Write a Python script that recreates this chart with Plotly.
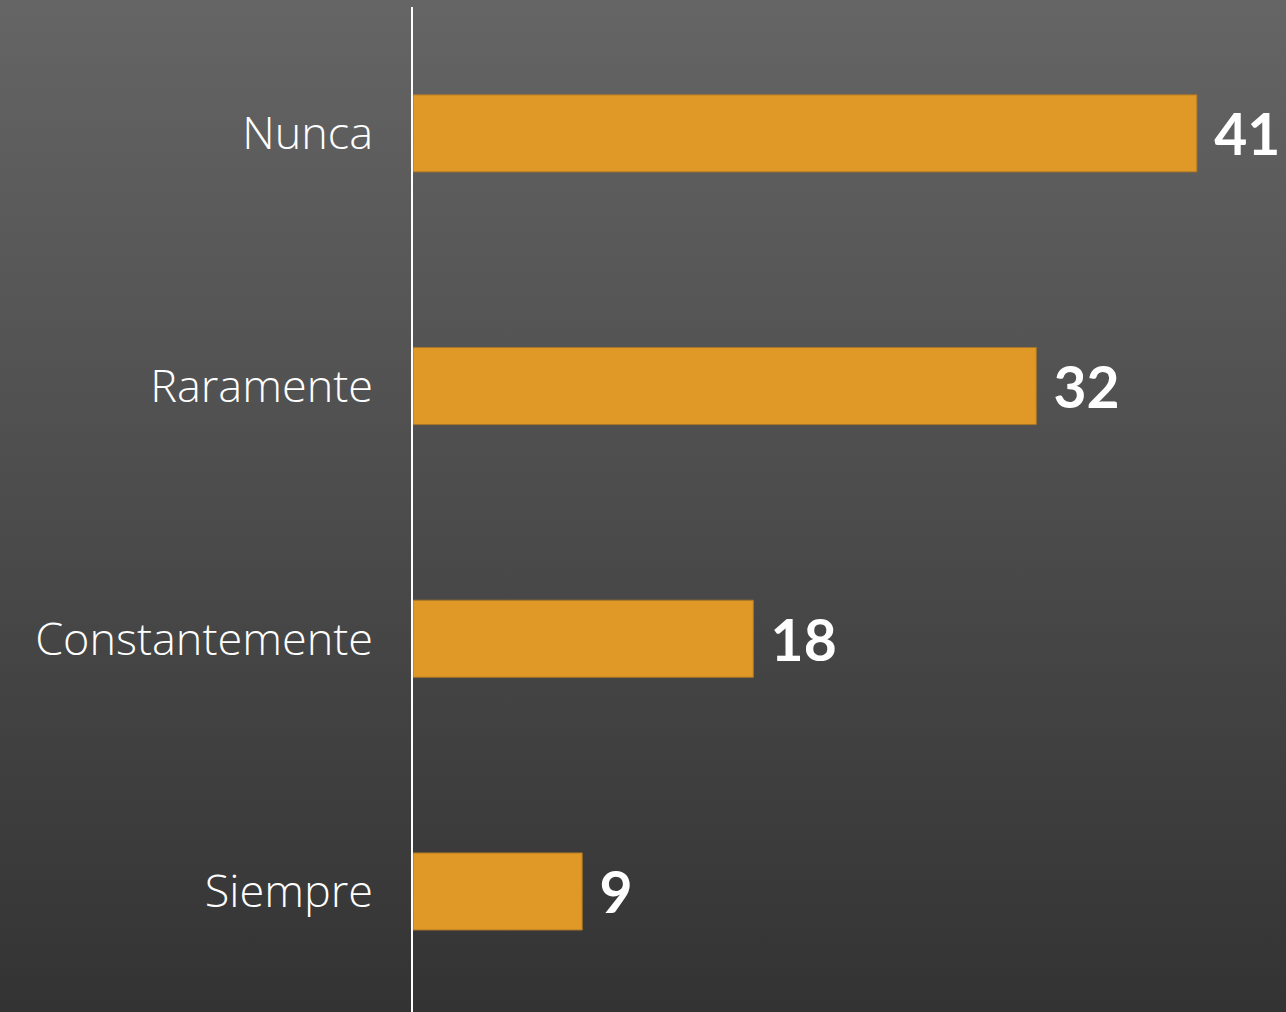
import base64
import plotly.graph_objects as go

categories = ["Nunca", "Raramente", "Constantemente", "Siempre"]
values = [41.0, 32.6, 17.8, 8.85]
labels = ["41", "32", "18", "9"]

W, H = 1286, 1012
ML, MT, MB, MR = 413, 7, 0, 0
pw = W - ML - MR
ph = H - MT - MB

svg = (
    '<svg xmlns="http://www.w3.org/2000/svg" width="100" height="100" preserveAspectRatio="none">'
    '<defs><linearGradient id="g" x1="0" y1="0" x2="0" y2="1">'
    '<stop offset="0" stop-color="#656565"/><stop offset="1" stop-color="#333333"/>'
    '</linearGradient></defs><rect width="100" height="100" fill="url(#g)"/></svg>'
)
src = "data:image/svg+xml;base64," + base64.b64encode(svg.encode()).decode()

fig = go.Figure(
    go.Bar(
        x=values,
        y=categories,
        orientation="h",
        width=0.305,
        marker=dict(color="#E09826", line=dict(color="#A87628", width=1)),
        text=labels,
        texttemplate="\u2005%{text}",
        textposition="outside",
        cliponaxis=False,
        textfont=dict(family="Lato", size=57, color="white", weight=700),
        hoverinfo="skip",
    )
)

fig.update_layout(
    width=W,
    height=H,
    margin=dict(l=ML, r=MR, t=MT, b=MB, pad=0),
    paper_bgcolor="#4a4a4a",
    plot_bgcolor="rgba(0,0,0,0)",
    showlegend=False,
    images=[
        dict(
            source=src,
            xref="paper",
            yref="paper",
            x=-ML / pw,
            y=1 + MT / ph,
            sizex=W / pw,
            sizey=H / ph,
            sizing="stretch",
            xanchor="left",
            yanchor="top",
            layer="below",
        )
    ],
    xaxis=dict(
        range=[0, pw / 19.12],
        showgrid=False,
        zeroline=False,
        showticklabels=False,
        showline=False,
    ),
    yaxis=dict(
        type="category",
        range=[3.477, -0.5],
        showgrid=False,
        zeroline=False,
        showline=True,
        linecolor="white",
        linewidth=2,
        ticks="",
        ticklabelstandoff=29,
        tickfont=dict(family="Open Sans", size=45, color="white", weight=300),
    ),
)

fig.write_html(
    "out.html",
    config={"displayModeBar": False},
    post_script="document.body.style.margin='0';",
)
